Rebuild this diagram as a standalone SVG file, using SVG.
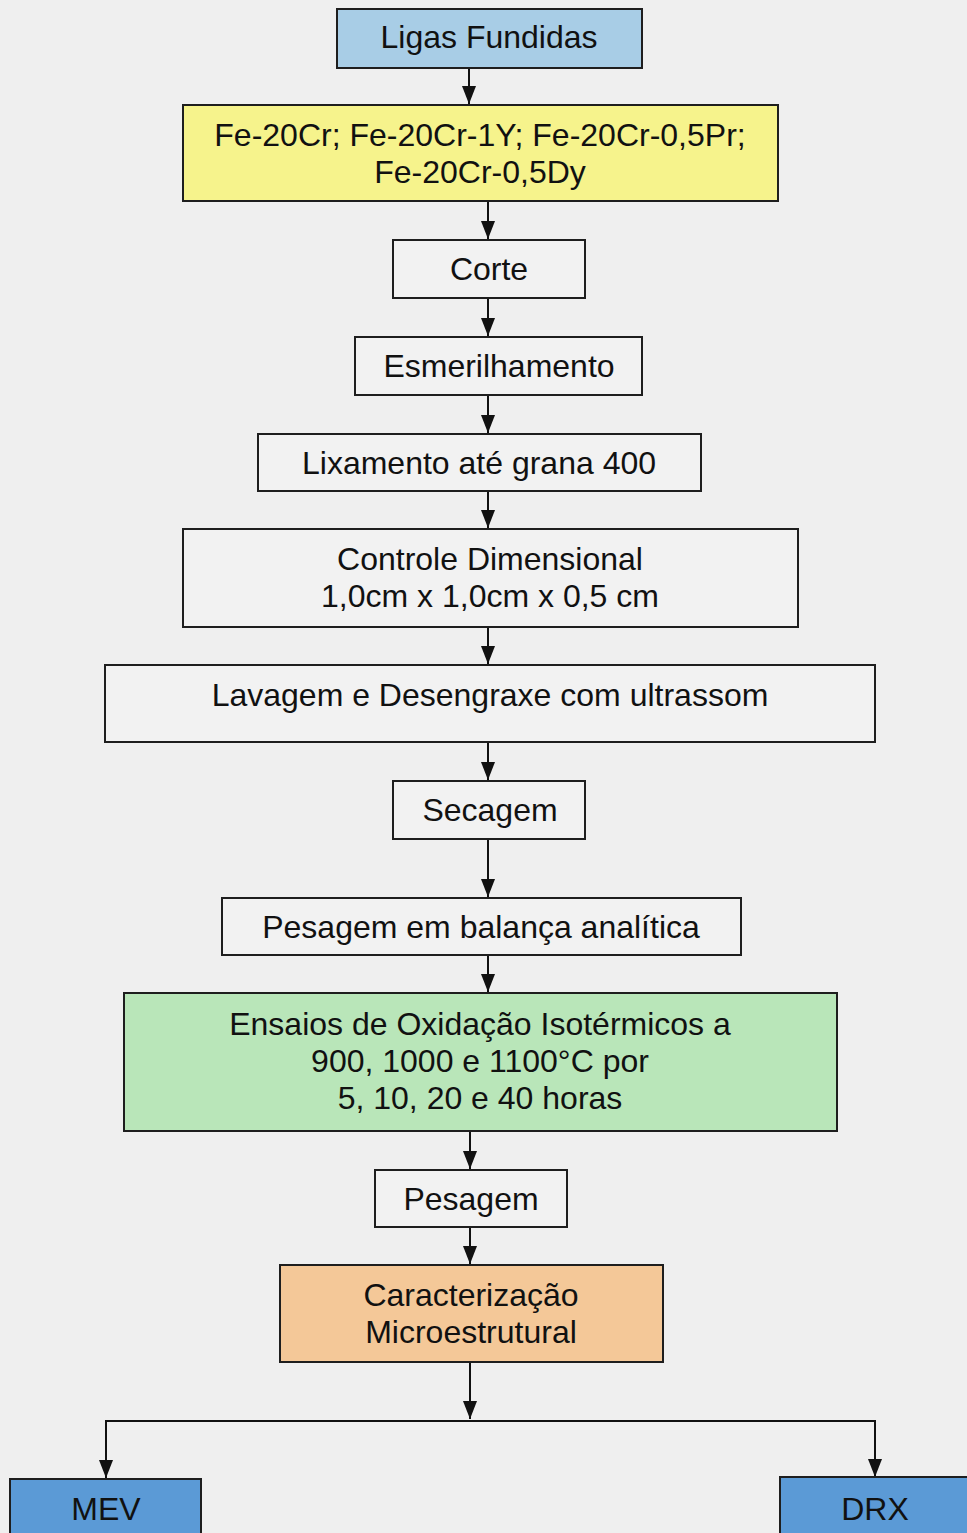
<svg xmlns="http://www.w3.org/2000/svg" width="967" height="1533" viewBox="0 0 967 1533">
<style>
.box{stroke:#1e1e1e;stroke-width:2;fill:#f2f2f2}
.t{font-family:"Liberation Sans",Arial,sans-serif;font-size:32px;fill:#111;text-anchor:middle}
.c{stroke:#111;stroke-width:2;fill:none}
</style>
<defs>
<marker id="ah" markerWidth="18" markerHeight="14" refX="18" refY="7" orient="auto-start-reverse" markerUnits="userSpaceOnUse" viewBox="0 0 18 14">
<path d="M0,0 L18,7 L0,14 Z" fill="#111"/>
</marker>
</defs>
<rect width="967" height="1533" fill="#efefef"/>
<g id="connectors">
<line class="c" x1="469" y1="68" x2="469" y2="104" marker-end="url(#ah)"/>
<line class="c" x1="488" y1="201" x2="488" y2="239" marker-end="url(#ah)"/>
<line class="c" x1="488" y1="298" x2="488" y2="336" marker-end="url(#ah)"/>
<line class="c" x1="488" y1="395" x2="488" y2="433" marker-end="url(#ah)"/>
<line class="c" x1="488" y1="491" x2="488" y2="528" marker-end="url(#ah)"/>
<line class="c" x1="488" y1="627" x2="488" y2="664" marker-end="url(#ah)"/>
<line class="c" x1="488" y1="742" x2="488" y2="780" marker-end="url(#ah)"/>
<line class="c" x1="488" y1="839" x2="488" y2="897" marker-end="url(#ah)"/>
<line class="c" x1="488" y1="955" x2="488" y2="992" marker-end="url(#ah)"/>
<line class="c" x1="470" y1="1131" x2="470" y2="1169" marker-end="url(#ah)"/>
<line class="c" x1="470" y1="1227" x2="470" y2="1264" marker-end="url(#ah)"/>
<line class="c" x1="470" y1="1362" x2="470" y2="1419" marker-end="url(#ah)"/>
<polyline class="c" points="106,1478 106,1421 875,1421 875,1477" marker-start="url(#ah)" marker-end="url(#ah)"/>
</g>
<g id="n1"><rect class="box" x="337" y="9" width="305" height="59" style="fill:#a8cde6"/><text class="t" x="489" y="48">Ligas Fundidas</text></g>
<g id="n2"><rect class="box" x="183" y="105" width="595" height="96" style="fill:#f6f38c"/><text class="t" x="480" y="146">Fe-20Cr; Fe-20Cr-1Y; Fe-20Cr-0,5Pr;</text><text class="t" x="480" y="183">Fe-20Cr-0,5Dy</text></g>
<g id="n3"><rect class="box" x="393" y="240" width="192" height="58"/><text class="t" x="489" y="280">Corte</text></g>
<g id="n4"><rect class="box" x="355" y="337" width="287" height="58"/><text class="t" x="499" y="377">Esmerilhamento</text></g>
<g id="n5"><rect class="box" x="258" y="434" width="443" height="57"/><text class="t" x="479" y="474">Lixamento até grana 400</text></g>
<g id="n6"><rect class="box" x="183" y="529" width="615" height="98"/><text class="t" x="490" y="570">Controle Dimensional</text><text class="t" x="490" y="607">1,0cm x 1,0cm x 0,5 cm</text></g>
<g id="n7"><rect class="box" x="105" y="665" width="770" height="77"/><text class="t" x="490" y="706">Lavagem e Desengraxe com ultrassom</text></g>
<g id="n8"><rect class="box" x="393" y="781" width="192" height="58"/><text class="t" x="490" y="821">Secagem</text></g>
<g id="n9"><rect class="box" x="222" y="898" width="519" height="57"/><text class="t" x="481" y="938">Pesagem em balança analítica</text></g>
<g id="n10"><rect class="box" x="124" y="993" width="713" height="138" style="fill:#b9e6b9"/><text class="t" x="480" y="1035">Ensaios de Oxidação Isotérmicos a</text><text class="t" x="480" y="1072">900, 1000 e 1100°C por</text><text class="t" x="480" y="1109">5, 10, 20 e 40 horas</text></g>
<g id="n11"><rect class="box" x="375" y="1170" width="192" height="57"/><text class="t" x="471" y="1210">Pesagem</text></g>
<g id="n12"><rect class="box" x="280" y="1265" width="383" height="97" style="fill:#f4c898"/><text class="t" x="471" y="1306">Caracterização</text><text class="t" x="471" y="1343">Microestrutural</text></g>
<g id="n13"><rect class="box" x="10" y="1479" width="191" height="60" style="fill:#5b9ad6"/><text class="t" x="106" y="1520">MEV</text></g>
<g id="n14"><rect class="box" x="780" y="1477" width="195" height="62" style="fill:#5b9ad6"/><text class="t" x="875" y="1520">DRX</text></g>
</svg>
